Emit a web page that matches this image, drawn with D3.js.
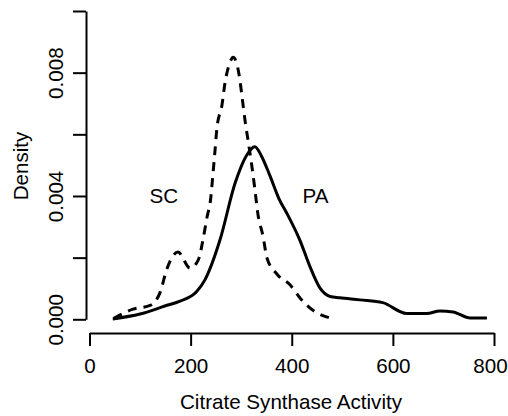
<!DOCTYPE html>
<html>
<head>
<meta charset="utf-8">
<script src="https://cdn.jsdelivr.net/npm/d3@7"></script>
<style>
    body { margin: 0; background: #fff; }
    svg { display: block; }
    text { font-family: Arial, "Liberation Sans", sans-serif; fill: #000; }
</style>
</head>
<body>
<svg id="chart"></svg>
<script>
//*************************************************
// Data
//*************************************************
var paX = [46, 100, 149, 179, 212, 228, 258, 288, 310, 327, 340, 357, 375, 390, 416, 436, 456, 476, 495, 535, 580, 627, 667, 693, 719, 753, 786];
var paY = [0.00001, 0.00017, 0.00043, 0.00059, 0.00090, 0.00127, 0.00257, 0.00442, 0.00530, 0.00560, 0.00530, 0.00465, 0.00390, 0.00345, 0.00257, 0.00171, 0.00101, 0.00074, 0.00070, 0.00063, 0.00054, 0.00019, 0.00019, 0.00027, 0.00024, 0.00004, 0.00004];

var scX = [48, 86, 120, 140, 153, 175, 199, 215, 225, 232, 240, 244, 248, 252, 262, 268, 278, 284, 296, 302, 308, 314, 321, 327, 333, 343, 351, 371, 397, 418, 444, 478];
var scY = [0.00003, 0.00033, 0.00045, 0.00089, 0.00163, 0.00218, 0.00166, 0.00192, 0.00263, 0.00328, 0.00396, 0.00468, 0.00543, 0.00620, 0.00695, 0.00767, 0.00834, 0.00850, 0.00792, 0.00718, 0.00640, 0.00576, 0.00498, 0.00423, 0.00342, 0.00271, 0.00199, 0.00146, 0.00111, 0.00066, 0.00027, 0.00003];

var xTicks = [0, 200, 400, 600, 800];
var yTicks = [0, 0.002, 0.004, 0.006, 0.008, 0.010];
var yLabelTicks = [0, 0.004, 0.008];

var labelNames = ['SC', 'PA'];
var labelX = [147, 447];
var labelY = [0.0040, 0.0040];


d3.densityChart = function (){

    //*************************************************
    // Public Variables loaded with default values
    //*************************************************
    var _width = 508;
    var _height = 416;
    var _fontSize = 20.6;

    function chart(selection){
        selection.each(function (){
            var svg = d3.select(this)
                .attr('width', _width)
                .attr('height', _height);

            var x = d3.scaleLinear().domain([0, 800]).range([89.5, 494]);
            var y = d3.scaleLinear().domain([0, 0.010]).range([319.3, 11]);

            //----------------------------------------------------------------------------------
            // axes (R style, detached)
            //----------------------------------------------------------------------------------
            var xAxis = svg.append('g')
                .attr('transform', 'translate(0,333)')
                .call(d3.axisBottom(x).tickValues(xTicks).tickSize(13).tickSizeOuter(0).tickFormat(d3.format('d')));
            xAxis.selectAll('text')
                .attr('x', function (d){ return d === 800 ? -4 : 0; })
                .attr('y', 40).attr('dy', 0)
                .style('font-size', _fontSize + 'px');

            var yAxis = svg.append('g')
                .attr('transform', 'translate(86,0)')
                .call(d3.axisLeft(y).tickValues(yTicks).tickSize(13).tickSizeOuter(0)
                    .tickFormat(function (d){ return yLabelTicks.some(function (v){ return Math.abs(v - d) < 1e-9; }) ? d3.format('.3f')(d) : ''; }));
            yAxis.selectAll('text')
                .attr('transform', 'rotate(-90)')
                .attr('x', 0).attr('y', -23).attr('dy', 0)
                .style('text-anchor', 'middle')
                .style('font-size', _fontSize + 'px');

            svg.selectAll('.domain, .tick line')
                .attr('stroke', '#000')
                .attr('stroke-width', 2);

            //----------------------------------------------------------------------------------
            // axis titles
            //----------------------------------------------------------------------------------
            svg.append('text')
                .attr('x', 291).attr('y', 409)
                .style('text-anchor', 'middle')
                .style('font-size', _fontSize + 'px')
                .text('Citrate Synthase Activity');

            svg.append('text')
                .attr('transform', 'translate(28,166) rotate(-90)')
                .style('text-anchor', 'middle')
                .style('font-size', _fontSize + 'px')
                .text('Density');

            //----------------------------------------------------------------------------------
            // density curves
            //----------------------------------------------------------------------------------
            var line = d3.line()
                .x(function (d){ return x(d[0]); })
                .y(function (d){ return y(d[1]); })
                .curve(d3.curveMonotoneX);

            svg.append('path')
                .datum(d3.zip(paX, paY))
                .attr('d', line)
                .attr('fill', 'none')
                .attr('stroke', '#000')
                .attr('stroke-width', 3)
                .attr('stroke-linejoin', 'round');

            svg.append('path')
                .datum(d3.zip(scX, scY))
                .attr('d', line)
                .attr('fill', 'none')
                .attr('stroke', '#000')
                .attr('stroke-width', 3)
                .attr('stroke-dasharray', '9,7');

            //----------------------------------------------------------------------------------
            // group labels
            //----------------------------------------------------------------------------------
            svg.selectAll('.groupLabel')
                .data(labelNames)
                .enter().append('text')
                .attr('class', 'groupLabel')
                .attr('x', function (d, i){ return x(labelX[i]); })
                .attr('y', function (d, i){ return y(labelY[i]); })
                .attr('dy', '0.35em')
                .style('text-anchor', 'middle')
                .style('font-size', _fontSize + 'px')
                .text(function (d){ return d; });
        });
    }

    //-------------------------------------------------
    // Getters and setters for public variables
    //-------------------------------------------------
    chart.width = function (value){
        if (!arguments.length){
            return _width;
        }
        _width = value;
        return chart;
    };
    chart.height = function (value){
        if (!arguments.length){
            return _height;
        }
        _height = value;
        return chart;
    };

    return chart;
};

d3.select('#chart').call(d3.densityChart());
</script>
</body>
</html>
